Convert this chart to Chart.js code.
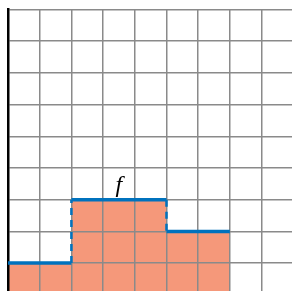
<!DOCTYPE html>
<html lang="en">
<head>
  <meta charset="UTF-8">
  <title>Step function f</title>
  <style>
    body {
      margin: 0;
      background: white;
    }
  </style>
</head>
<body>
  <script src="https://cdn.jsdelivr.net/npm/chart.js@4.4.1/dist/chart.umd.min.js"></script>

  <script>
    // DATA: step function f, jumps at stepX
    const stepX = [0, 2, 5, 7];
    const stepY = [1, 3, 2, 2];
    const gridX = [0, 1, 2, 3, 4, 5, 6, 7, 8];
    const gridY = [1, 2, 3, 4, 5, 6, 7, 8, 9];
    const labelText = "f";
  </script>

  <canvas id="stepChart" width="292" height="291"></canvas>

  <script>
    const blue = "#0072BD";

    // outline pieces: solid horizontals, dashed jumps
    const pieces = [];
    const corners = [];
    for (let i = 0; i < stepX.length - 1; i++) {
      corners.push({x: stepX[i], y: stepY[i]}, {x: stepX[i + 1], y: stepY[i]});
      pieces.push({
        data: [{x: stepX[i], y: stepY[i]}, {x: stepX[i + 1], y: stepY[i]}],
        borderColor: blue, borderWidth: 3.5, pointRadius: 0, fill: false
      });
      if (stepY[i + 1] !== stepY[i]) {
        pieces.push({
          data: [{x: stepX[i + 1], y: stepY[i]}, {x: stepX[i + 1], y: stepY[i + 1]}],
          borderColor: blue, borderWidth: 2.5, borderDash: [7, 5],
          pointRadius: 0, fill: false
        });
      }
    }

    const area = {
      data: corners,
      tension: 0,
      borderWidth: 0,
      pointRadius: 0,
      backgroundColor: "#F5987A",
      fill: "origin"
    };

    // draw outline after the grid so it sits on top
    const onTop = {
      id: "onTop",
      beforeDatasetDraw(chart, args) {
        if (args.index > 0) return false;
      },
      afterDraw(chart) {
        const ctx = chart.ctx;
        const a = chart.chartArea;
        ctx.save();
        ctx.beginPath();
        ctx.rect(a.left, a.top, a.right - a.left, a.bottom - a.top);
        ctx.clip();
        for (let i = 1; i < chart.data.datasets.length; i++) {
          chart.getDatasetMeta(i).controller.draw();
        }
        ctx.restore();

        // label
        const xs = chart.scales.x, ys = chart.scales.y;
        ctx.save();
        ctx.font = "italic 24px 'Liberation Serif'";
        ctx.fillStyle = "black";
        ctx.textAlign = "center";
        ctx.textBaseline = "middle";
        ctx.fillText(labelText, xs.getPixelForValue(3.5), ys.getPixelForValue(3.45));
        ctx.restore();
      }
    };

    const chart = new Chart("stepChart", {
      type: "line",
      data: {datasets: [area].concat(pieces)},
      plugins: [onTop],
      options: {
        responsive: false,
        animation: false,
        layout: {padding: {top: 9.5, left: 0, right: 0, bottom: 0}},
        plugins: {legend: {display: false}, tooltip: {enabled: false}},
        scales: {
          x: {
            type: "linear",
            min: 0,
            max: 8.96,
            afterBuildTicks: s => { s.ticks = gridX.map(v => ({value: v})); },
            afterFit: s => { s.height = 0; },
            ticks: {display: false},
            grid: {color: "#8a8a8a", lineWidth: 1.5, drawTicks: false, z: 1},
            border: {display: false}
          },
          y: {
            type: "linear",
            min: 0.12,
            max: 9,
            afterBuildTicks: s => { s.ticks = gridY.map(v => ({value: v})); },
            afterFit: s => { s.width = 8; },
            ticks: {display: false},
            grid: {color: "#8a8a8a", lineWidth: 1.5, drawTicks: false, z: 1},
            border: {display: true, color: "black", width: 2.5, z: 2}
          }
        }
      }
    });
  </script>
</body>
</html>
